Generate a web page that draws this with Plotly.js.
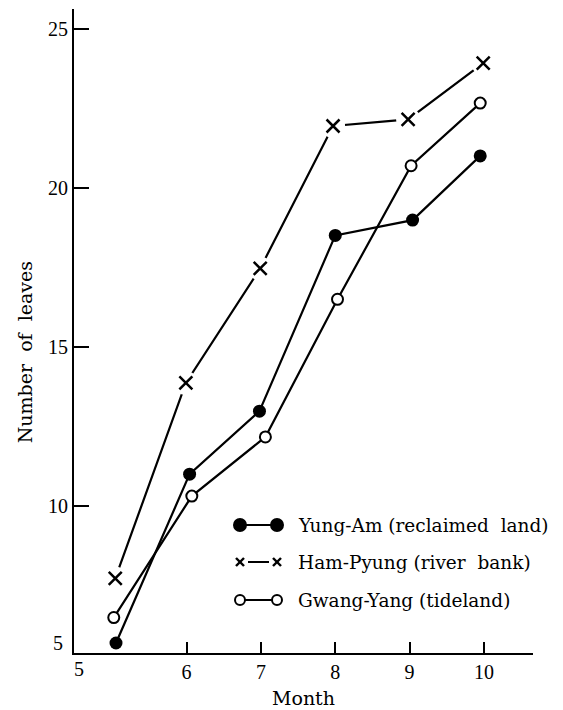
<!DOCTYPE html>
<html><head><meta charset="utf-8">
<script src="https://cdn.plot.ly/plotly-3.0.1.min.js"></script>
<style>body{margin:0;background:#fff}</style>
</head><body><div id="chart" style="width:563px;height:710px"></div>
<script>
// Data
const yungX  = [5.05, 6.04, 6.98, 8.00, 9.04, 9.95];
const yungY  = [5.70, 11.01, 12.99, 18.52, 19.00, 21.02];
const hamX   = [5.04, 5.99, 6.99, 7.97, 8.98, 9.99];
const hamY   = [7.73, 13.88, 17.48, 21.96, 22.17, 23.94];
const gwangX = [5.02, 6.07, 7.06, 8.03, 9.02, 9.95];
const gwangY = [6.50, 10.32, 12.18, 16.51, 20.71, 22.68];
const seriesNames = ["Yung-Am (reclaimed&nbsp; land)", "Ham-Pyung (river&nbsp; bank)", "Gwang-Yang (tideland)"];
const xTickVals = [6, 7, 8, 9, 10];
const yTickVals = [10, 15, 20, 25];
const originLabel = "5";
const xTitle = "Month";
const yTitle = "Number&nbsp; of&nbsp; leaves";

// Layout geometry (pixels)
const W = 563, H = 710;
const M = {l: 74, r: 30, t: 9, b: 57};
const PW = W - M.l - M.r, PH = H - M.t - M.b;
const px = x => (x - M.l) / PW;
const py = y => (H - M.b - y) / PH;
const SERIF = "Liberation Serif, Times New Roman, serif";
const WIDE = "DejaVu Serif, serif";
// trailing padding shifts the rotated title slightly downward, as in the original
const yTitlePad = "&nbsp;".repeat(7);

const traces = [
  {x: yungX, y: yungY, mode: "lines+markers", name: seriesNames[0], showlegend: false,
   line: {color: "#000", width: 2.2}, marker: {symbol: "circle", size: 13, color: "#000"}},
  {x: hamX, y: hamY, mode: "lines", name: seriesNames[1], showlegend: false,
   line: {color: "#000", width: 2.2}},
  {x: hamX, y: hamY, mode: "markers", showlegend: false, hoverinfo: "skip",
   marker: {symbol: "circle", size: 24, color: "#fff"}},
  {x: hamX, y: hamY, mode: "markers", showlegend: false,
   marker: {symbol: "x-thin", size: 13, line: {color: "#000", width: 2.5}}},
  {x: gwangX, y: gwangY, mode: "lines+markers", name: seriesNames[2], showlegend: false,
   line: {color: "#000", width: 2.2},
   marker: {symbol: "circle", size: 11, color: "#fff", line: {color: "#000", width: 2}}}
];

// custom legend (marker - line - marker)
const shapes = [];
const annotations = [];
const rowY = [525, 562, 600];
const symL = 240, symR = 277, textX = 296;
const kinds = ["filled", "cross", "open"];
kinds.forEach((k, i) => {
  const y = rowY[i];
  if (k === "cross") {
    shapes.push({type: "line", xref: "paper", yref: "paper", x0: px(symL + 8), x1: px(symR - 8), y0: py(y), y1: py(y), line: {color: "#000", width: 2}});
    [symL, symR].forEach(cx => {
      const r = 4;
      shapes.push({type: "line", xref: "paper", yref: "paper", x0: px(cx - r), x1: px(cx + r), y0: py(y - r), y1: py(y + r), line: {color: "#000", width: 2.4}});
      shapes.push({type: "line", xref: "paper", yref: "paper", x0: px(cx - r), x1: px(cx + r), y0: py(y + r), y1: py(y - r), line: {color: "#000", width: 2.4}});
    });
  } else {
    shapes.push({type: "line", xref: "paper", yref: "paper", x0: px(symL), x1: px(symR), y0: py(y), y1: py(y), line: {color: "#000", width: 2}});
    [symL, symR].forEach(cx => {
      const r = k === "filled" ? 6 : 5;
      shapes.push({type: "circle", xref: "paper", yref: "paper", x0: px(cx - r), x1: px(cx + r), y0: py(y - r), y1: py(y + r),
        fillcolor: k === "filled" ? "#000" : "#fff", line: {color: "#000", width: 2}});
    });
  }
  annotations.push({xref: "paper", yref: "paper", x: px(textX), y: py(y), xanchor: "left", yanchor: "middle",
    text: seriesNames[i], showarrow: false, font: {family: WIDE, size: 18.5, color: "#000"}});
});
// origin labels "5"
annotations.push({xref: "paper", yref: "paper", x: px(79), y: py(669), xanchor: "center", yanchor: "middle",
  text: originLabel, showarrow: false, font: {family: SERIF, size: 20, color: "#000"}});
annotations.push({xref: "paper", yref: "paper", x: px(65), y: py(643), xanchor: "right", yanchor: "middle",
  text: originLabel, showarrow: false, font: {family: SERIF, size: 20, color: "#000"}});

const layout = {
  width: W, height: H, margin: M,
  paper_bgcolor: "#fff", plot_bgcolor: "#fff",
  font: {family: SERIF, size: 20, color: "#000"},
  showlegend: false,
  xaxis: {range: [4.485, 10.66], tickvals: xTickVals, ticktext: xTickVals.map(String),
    ticks: "inside", ticklen: 11, tickwidth: 2, tickcolor: "#000",
    tickfont: {family: SERIF, size: 20},
    showline: true, linecolor: "#000", linewidth: 2, showgrid: false, zeroline: false,
    title: {text: xTitle, font: {family: WIDE, size: 19}, standoff: 10}},
  yaxis: {range: [5.385, 25.64], tickvals: yTickVals, ticktext: yTickVals.map(String),
    ticks: "inside", ticklen: 15, tickwidth: 2, tickcolor: "#000",
    tickfont: {family: SERIF, size: 20},
    showline: true, linecolor: "#000", linewidth: 2, showgrid: false, zeroline: false,
    title: {text: yTitle + yTitlePad, font: {family: WIDE, size: 19}, standoff: 10}},
  shapes: shapes, annotations: annotations
};
Plotly.newPlot("chart", traces, layout, {displayModeBar: false, staticPlot: true});
</script></body></html>
